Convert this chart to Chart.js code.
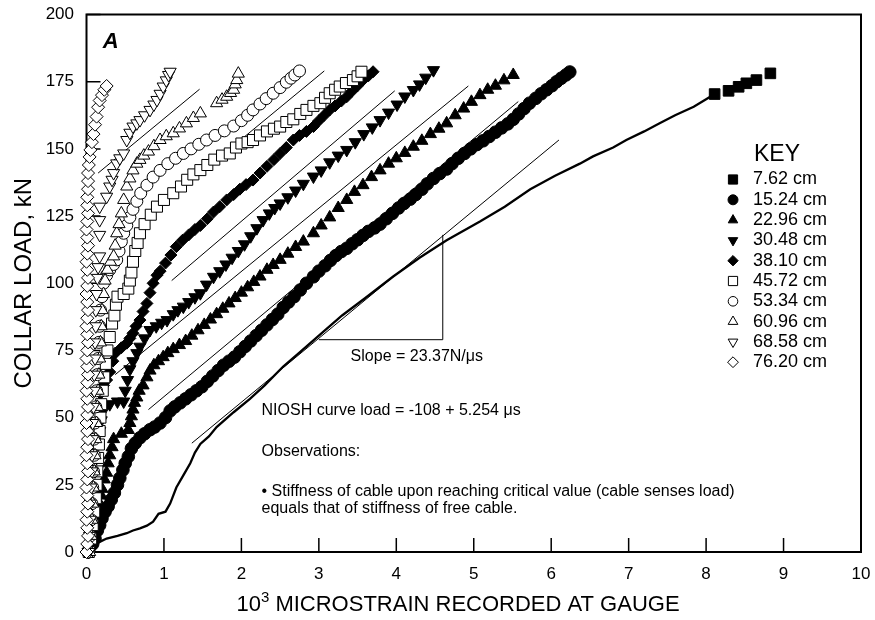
<!DOCTYPE html>
<html>
<head>
<meta charset="utf-8">
<script src="https://cdn.jsdelivr.net/npm/chart.js@4.4.0/dist/chart.umd.min.js"></script>
<style>
  html, body { margin: 0; padding: 0; background: #fff; }
</style>
</head>
<body>
<canvas id="myCanvas" width="875" height="620"></canvas>
<script>
// gauge positions (key)
const keyLabels = ['7.62 cm', '15.24 cm', '22.96 cm', '30.48 cm', '38.10 cm',
  '45.72 cm', '53.34 cm', '60.96 cm', '68.58 cm', '76.20 cm'];

const xTicks = [0, 1, 2, 3, 4, 5, 6, 7, 8, 9, 10];
const yTicks = [0, 25, 50, 75, 100, 125, 150, 175, 200];

// [10^3 microstrain, kN]
const pts762 = [[8.11,170.4],[8.29,171.6],[8.42,173.1],[8.52,174.4],[8.65,175.6],[8.83,178.1]];

const curve762 = [[0,0],[0.05,1.5],[0.15,3.5],[0.26,5],[0.4,6],[0.52,7],[0.6,8],[0.69,8.8],[0.78,9.8],
  [0.86,11.3],[0.93,14.2],[1.02,15],[1.08,18],[1.16,24],[1.25,28.5],[1.34,33],[1.4,37],[1.47,40.2],
  [1.58,43],[1.68,46.5],[1.9,52],[2.11,57],[2.3,62],[2.54,69],[2.76,74.5],[3.0,80.5],[3.3,88],
  [3.6,94.5],[3.96,102.5],[4.3,109.5],[4.65,116],[5.08,123],[5.4,128.5],[5.73,135],[6.05,140],
  [6.37,144.5],[6.54,147.2],[6.8,150.5],[6.97,153.3],[7.2,156.5],[7.4,159.5],[7.6,162.5],
  [7.84,165.7],[8.0,168.5],[8.11,170.4]];

const pts1524 = [[0.03,0.5],[0.08,3],[0.11,5],[0.14,8],[0.17,10],[0.2,12.5],[0.24,15],[0.28,17],
  [0.32,19.5],[0.36,22],[0.4,25],[0.43,27.5],[0.47,30.5],[0.5,33],[0.54,35.5],[0.58,38.5],[0.63,40.5],
  [0.69,42.5],[0.75,44],[0.82,45.5],[0.88,46.5],[0.95,48],[1.02,50],[1.08,52.5],[1.14,54],[1.21,55.5],
  [1.28,57],[1.35,58.5],[1.42,60],[1.49,61.5],[1.56,63.5],[1.63,65.5],[1.7,67.5],[1.77,69.5],[1.84,71],
  [1.91,72.5],[1.98,74.5],[2.05,76.5],[2.12,78.5],[2.19,80.5],[2.26,82.5],[2.33,84.5],[2.4,86.5],
  [2.47,88.5],[2.54,91],[2.61,93],[2.68,95],[2.76,97.5],[2.84,100],[2.93,102.4],[3.0,104.5],[3.08,106.5],
  [3.15,108.5],[3.22,110.3],[3.29,111.8],[3.36,113],[3.43,114.7],[3.5,116.2],[3.57,117.8],[3.64,119.3],
  [3.72,120.6],[3.79,122],[3.87,124],[3.95,126],[4.03,128],[4.1,129.7],[4.18,131.3],[4.25,133],
  [4.33,135],[4.4,137],[4.48,139],[4.56,140.8],[4.65,142.5],[4.72,144.5],[4.8,146.5],[4.88,148.3],
  [4.96,150],[5.04,151.6],[5.12,153],[5.2,154.6],[5.28,156.2],[5.36,157.8],[5.44,159.3],[5.51,161],
  [5.58,163],[5.65,165],[5.72,167],[5.8,168.8],[5.87,170.5],[5.94,172],[6.01,173.5],[6.07,175],
  [6.13,176.3],[6.19,177.5],[6.24,178.6]];

const pts2296 = [[0.03,0],[0.06,3],[0.08,6],[0.1,9],[0.12,12],[0.15,14.5],[0.17,18],[0.19,21],[0.2,23.5],
  [0.23,27],[0.26,29.5],[0.28,33],[0.3,36],[0.33,39],[0.35,42],[0.45,44],[0.54,45.4],[0.56,48],
  [0.58,50.5],[0.6,53],[0.62,55.5],[0.65,57.5],[0.68,60],[0.73,62],[0.78,65],[0.82,67.5],[0.87,69.5],
  [0.93,71],[0.99,72.5],[1.05,74],[1.12,75.5],[1.2,77],[1.28,78.5],[1.36,80.5],[1.44,82.5],[1.52,84.5],
  [1.6,86.5],[1.68,88.5],[1.76,90.5],[1.84,92.5],[1.92,94.5],[2.0,96.5],[2.08,98.5],[2.16,100.5],
  [2.24,102.5],[2.33,105],[2.41,106.8],[2.5,108.7],[2.6,111],[2.7,113.5],[2.8,115.5],[2.93,118.6],
  [3.03,121.5],[3.14,124.5],[3.25,128],[3.36,131],[3.46,134],[3.57,136.5],[3.68,139.5],[3.79,142],
  [3.9,144.5],[4.0,146.5],[4.11,148.5],[4.22,150.8],[4.33,153],[4.44,155.5],[4.55,157.5],[4.65,159.5],
  [4.76,162.5],[4.87,165],[4.97,167.5],[5.08,170],[5.18,172],[5.28,173.5],[5.39,175.5],[5.51,177.5]];

const pts3048 = [[0.02,0],[0.04,5],[0.06,10],[0.07,15],[0.08,20],[0.1,25],[0.11,30],[0.13,35],[0.15,40],
  [0.17,45],[0.19,49],[0.22,52.8],[0.3,55],[0.4,56],[0.48,56],[0.5,60],[0.53,64],[0.56,68],[0.6,71],
  [0.65,74],[0.69,76.4],[0.75,79.5],[0.82,82.6],[0.9,84],[0.97,85.3],[1.04,86.3],[1.12,88.5],[1.18,90],
  [1.25,91.3],[1.32,93],[1.4,94.8],[1.47,96.3],[1.55,99.5],[1.64,102.4],[1.72,104.5],[1.8,107],
  [1.88,109.5],[1.96,112],[2.04,114.5],[2.12,117.5],[2.2,120.5],[2.28,123.5],[2.36,126],[2.43,128],
  [2.5,129.7],[2.6,132],[2.7,134.5],[2.8,137],[2.93,139.7],[3.03,142],[3.14,145],[3.25,147.5],
  [3.36,149.6],[3.47,152.5],[3.58,155.5],[3.69,158],[3.79,160.7],[3.9,163.5],[4.01,166.5],[4.11,169.5],
  [4.22,171.9],[4.3,174],[4.38,176.5],[4.48,179.3]];

const pts3810 = [[0.02,0],[0.04,6],[0.05,12],[0.06,18],[0.07,24],[0.08,30],[0.1,36],[0.11,42],[0.13,48],
  [0.15,54],[0.18,59],[0.22,62],[0.26,64],[0.3,67],[0.34,71],[0.37,74],[0.45,76],[0.52,77.7],[0.56,79.5],
  [0.6,81.4],[0.64,84],[0.69,86.3],[0.73,89.5],[0.78,92.5],[0.82,96.5],[0.86,100],[0.91,103],[0.95,104.5],
  [1.02,107.5],[1.09,110.5],[1.16,113.6],[1.24,116],[1.32,118],[1.4,120],[1.47,121.5],[1.56,124],
  [1.64,126.5],[1.72,128.5],[1.81,131],[1.9,133],[1.98,135],[2.06,136.7],[2.15,138.4],[2.24,141],
  [2.33,143.5],[2.42,146],[2.5,148.3],[2.58,150.5],[2.67,153.3],[2.75,155],[2.84,156.5],[2.93,158.3],
  [3.0,160.5],[3.07,162.5],[3.14,164.5],[3.21,166],[3.29,167.8],[3.36,169.4],[3.43,171.5],[3.5,173.5],
  [3.57,175.6],[3.64,177.2],[3.7,178.7]];

const pts4572 = [[0.03,0],[0.06,5],[0.08,10],[0.1,15],[0.12,20],[0.13,25],[0.14,30],[0.15,35],[0.16,40],
  [0.17,45],[0.18,50],[0.19,55],[0.21,60],[0.23,65],[0.25,70],[0.27,75],[0.3,80],[0.33,85],[0.36,88],
  [0.38,92],[0.4,95],[0.48,96],[0.54,98],[0.56,101],[0.58,104],[0.6,108],[0.63,112],[0.66,115],
  [0.69,118.6],[0.75,122],[0.83,125.5],[0.91,128.5],[1.0,131],[1.12,133.5],[1.22,136],[1.3,138.5],
  [1.38,140.5],[1.47,142.1],[1.56,144],[1.65,146],[1.75,147.5],[1.85,148.3],[1.93,150.5],[2.0,152],
  [2.08,152.5],[2.15,153.3],[2.24,155],[2.33,156.5],[2.42,157.5],[2.5,158.3],[2.58,160],[2.67,161],
  [2.76,163],[2.84,164.5],[2.93,166],[3.02,167],[3.08,169],[3.14,170.7],[3.21,172],[3.27,173.2],
  [3.35,174.5],[3.44,175.6],[3.5,177],[3.55,178.7]];

const pts5334 = [[0.03,0],[0.05,6],[0.06,12],[0.07,18],[0.08,24],[0.09,30],[0.1,36],[0.1,42],[0.11,48],
  [0.12,54],[0.13,60],[0.14,66],[0.15,72],[0.16,78],[0.17,84],[0.18,90],[0.2,95],[0.22,100],[0.26,103],
  [0.3,105],[0.35,107],[0.39,108.7],[0.42,112],[0.45,115.5],[0.48,118.6],[0.52,121.5],[0.56,124.5],
  [0.6,127.5],[0.65,130.5],[0.7,133.5],[0.78,136.5],[0.86,139.5],[0.95,142],[1.05,144.5],[1.15,146.5],
  [1.25,148.3],[1.35,150],[1.45,151.7],[1.55,153.3],[1.66,155],[1.78,156.7],[1.9,158.5],[2.0,160.5],
  [2.08,162.5],[2.15,164.5],[2.24,166.7],[2.32,168.7],[2.41,170.7],[2.5,172.8],[2.58,174.8],
  [2.64,176.3],[2.69,177.5],[2.75,179]];

const pts6096 = [[0.04,0],[0.06,6],[0.07,12],[0.08,18],[0.09,24],[0.1,30],[0.11,36],[0.12,42],[0.13,48],
  [0.14,54],[0.15,60],[0.16,66],[0.17,72],[0.18,78],[0.19,84],[0.2,90],[0.22,96],[0.24,101],[0.27,105],
  [0.31,108],[0.35,110],[0.37,114],[0.39,118.6],[0.42,122],[0.45,126],[0.48,131],[0.52,136],[0.56,139],
  [0.6,142],[0.65,144.5],[0.69,145.9],[0.74,147.5],[0.8,149],[0.87,151],[0.95,153.3],[1.03,154.7],
  [1.12,155.8],[1.2,157.6],[1.29,159.5],[1.38,161.5],[1.47,163.2],[1.68,167],[1.75,168.3],[1.81,169.4],
  [1.86,170.8],[1.9,172],[1.92,174],[1.94,175.6],[1.96,178]];

const pts6858 = [[0.03,0],[0.04,6],[0.05,12],[0.05,18],[0.06,24],[0.07,30],[0.07,36],[0.08,42],[0.08,48],
  [0.09,54],[0.1,60],[0.1,66],[0.11,72],[0.11,78],[0.12,84],[0.12,90],[0.13,96],[0.14,102],[0.15,106],
  [0.17,110],[0.17,118],[0.17,123.5],[0.17,128.5],[0.26,132.2],[0.3,136],[0.33,138.5],[0.35,141],
  [0.39,144.6],[0.43,146.5],[0.48,148.3],[0.52,153.3],[0.56,156],[0.6,158.3],[0.65,159.5],[0.69,160.7],
  [0.75,162.5],[0.82,164.5],[0.87,166.5],[0.91,168.2],[0.95,170.5],[0.99,173.2],[1.03,175.5],
  [1.06,177.5],[1.08,178.7]];

const pts7620 = [[0,0],[0.01,3],[0.02,6],[0.01,9],[0,12],[0.01,15],[0.02,18],[0.01,21],[0,24],[0.01,27],
  [0.02,30],[0.01,33],[0,36],[0.01,39],[0.02,42],[0.01,45],[0,48],[0.01,51],[0.02,54],[0.01,57],[0,60],
  [0.01,63],[0.02,66],[0.01,69],[0,72],[0.01,75],[0.02,78],[0.01,81],[0,84],[0.01,87],[0.02,90],
  [0.01,93],[0,96],[0.01,99],[0.02,102],[0.01,105],[0,108],[0.01,111],[0.02,114],[0.01,117],[0,120],
  [0.01,123],[0.02,126],[0.01,129],[0.01,132],[0.02,135],[0.02,138],[0.02,141],[0.03,144],[0.04,147],
  [0.05,149.6],[0.07,152.5],[0.09,155.5],[0.11,159],[0.13,162],[0.15,165.5],[0.17,168],[0.2,170],
  [0.23,172],[0.26,173.4]];

// thin reference lines, stiffness of free cable
const refLine1 = [[0.15,141],[1.46,172.2]];
const refLine2 = [[0.71,122.9],[3.07,179]];
const refLine3 = [[1.10,101],[3.98,171.6]];
const refLine4 = [[0.37,66],[4.93,173.4]];
const refLine5 = [[0.80,53],[5.575,167.6]];
const refLine6 = [[1.36,40.5],[6.10,153.3]];
const slopeTriangle = [[3.0,79],[4.6,79],[4.6,118]];

const seriesPoints = [pts762, pts1524, pts2296, pts3048, pts3810, pts4572, pts5334, pts6096, pts6858, pts7620];
const refLines = [refLine1, refLine2, refLine3, refLine4, refLine5, refLine6, slopeTriangle];

// marker look for each gauge
const markerSpecs = [
  {style: 'rect', rot: 0, fill: true, r: 7.5, keyR: 6.5},
  {style: 'circle', rot: 0, fill: true, r: 6.3, keyR: 5},
  {style: 'triangle', rot: 0, fill: true, r: 7, keyR: 5.5},
  {style: 'triangle', rot: 180, fill: true, r: 7, keyR: 5.5},
  {style: 'rectRot', rot: 0, fill: true, r: 6, keyR: 5.2},
  {style: 'rect', rot: 0, fill: false, r: 7.8, keyR: 6.5},
  {style: 'circle', rot: 0, fill: false, r: 6, keyR: 4.8},
  {style: 'triangle', rot: 0, fill: false, r: 7, keyR: 5.6},
  {style: 'triangle', rot: 180, fill: false, r: 7, keyR: 5.6},
  {style: 'rectRot', rot: 0, fill: false, r: 6.5, keyR: 5.4}
];

Chart.defaults.font.family = '"Liberation Sans", Arial, Helvetica, sans-serif';
Chart.defaults.color = '#000';

function toXY(arr) {
  return arr.map(p => ({x: p[0], y: p[1]}));
}

const datasets = [];
seriesPoints.forEach((pts, i) => {
  const m = markerSpecs[i];
  datasets.push({
    label: keyLabels[i],
    data: toXY(pts),
    showLine: false,
    pointStyle: m.style,
    pointRotation: m.rot,
    pointRadius: m.r,
    pointHoverRadius: m.r,
    pointBorderWidth: 1,
    pointBackgroundColor: m.fill ? '#000' : '#fff',
    pointBorderColor: '#000',
    order: 100 - i,
    clip: false
  });
});
datasets.push({
  label: 'curve',
  data: toXY(curve762),
  showLine: true,
  borderColor: '#000',
  borderWidth: 2.3,
  pointRadius: 0,
  order: 150,
  clip: false
});
refLines.forEach(l => {
  datasets.push({
    label: 'ref',
    data: toXY(l),
    showLine: true,
    borderColor: '#000',
    borderWidth: 1,
    pointRadius: 0,
    order: 160,
    clip: false
  });
});

function drawMark(ctx, m, r, x, y) {
  ctx.beginPath();
  if (m.style === 'circle') {
    ctx.arc(x, y, r, 0, Math.PI * 2);
  } else if (m.style === 'rect') {
    const s = r * Math.SQRT1_2;
    ctx.rect(x - s, y - s, 2 * s, 2 * s);
  } else if (m.style === 'rectRot') {
    ctx.moveTo(x, y - r); ctx.lineTo(x + r, y); ctx.lineTo(x, y + r); ctx.lineTo(x - r, y);
    ctx.closePath();
  } else {
    let a = m.rot * Math.PI / 180;
    for (let k = 0; k < 3; k++) {
      const px = x + Math.sin(a) * r, py = y - Math.cos(a) * r;
      if (k === 0) ctx.moveTo(px, py); else ctx.lineTo(px, py);
      a += Math.PI * 2 / 3;
    }
    ctx.closePath();
  }
  ctx.fillStyle = m.fill ? '#000' : '#fff';
  ctx.fill();
  ctx.lineWidth = 1;
  ctx.strokeStyle = '#000';
  ctx.stroke();
}

// frame with inward ticks
const framePlugin = {
  id: 'frame',
  beforeDatasetsDraw(chart) {
    const {ctx, chartArea: a, scales: {x, y}} = chart;
    ctx.save();
    ctx.strokeStyle = '#000';
    ctx.lineWidth = 1.5;
    ctx.beginPath();
    xTicks.forEach(v => {
      const px = x.getPixelForValue(v);
      ctx.moveTo(px, a.bottom); ctx.lineTo(px, a.bottom - 14);
    });
    yTicks.forEach(v => {
      const py = y.getPixelForValue(v);
      ctx.moveTo(a.left, py); ctx.lineTo(a.left + 14, py);
    });
    ctx.stroke();
    ctx.lineWidth = 2;
    ctx.strokeRect(a.left, a.top, a.right - a.left, a.bottom - a.top);
    ctx.restore();
  }
};

// key, notes and x title
const notesPlugin = {
  id: 'notes',
  afterDraw(chart) {
    const {ctx, chartArea: a, scales: {x, y}} = chart;
    ctx.save();
    ctx.fillStyle = '#000';
    ctx.textBaseline = 'middle';

    ctx.font = 'bold italic 22px "Liberation Sans", Arial, sans-serif';
    ctx.textAlign = 'left';
    ctx.fillText('A', x.getPixelForValue(0.21), y.getPixelForValue(189.8));

    const noteX = x.getPixelForValue(2.26);
    ctx.font = '16px "Liberation Sans", Arial, sans-serif';
    ctx.fillText('Slope = 23.37N/\u03bcs', x.getPixelForValue(3.41), y.getPixelForValue(72.6));
    ctx.fillText('NIOSH curve load = -108 + 5.254 \u03bcs', noteX, y.getPixelForValue(52.8));
    ctx.fillText('Observations:', noteX, y.getPixelForValue(37.2));
    ctx.fillText('\u2022 Stiffness of cable upon reaching critical value (cable senses load)', noteX, y.getPixelForValue(22.3));
    ctx.fillText('equals that of stiffness of free cable.', noteX, y.getPixelForValue(16.2));

    // key
    const keyX = a.right - 84;
    ctx.textAlign = 'center';
    ctx.font = '23px "Liberation Sans", Arial, sans-serif';
    ctx.fillText('KEY', keyX, 155);
    ctx.font = '18px "Liberation Sans", Arial, sans-serif';
    ctx.textAlign = 'left';
    keyLabels.forEach((lab, i) => {
      const ry = 179.5 + i * 20.3;
      drawMark(ctx, markerSpecs[i], markerSpecs[i].keyR, keyX - 44, ry);
      ctx.fillStyle = '#000';
      ctx.fillText(lab, keyX - 24, ry);
    });

    // x axis title with superscript
    const big = '22px "Liberation Sans", Arial, sans-serif';
    const small = '15px "Liberation Sans", Arial, sans-serif';
    const rest = ' MICROSTRAIN RECORDED AT GAUGE';
    ctx.font = big;
    const w1 = ctx.measureText('10').width;
    const w3 = ctx.measureText(rest).width;
    ctx.font = small;
    const w2 = ctx.measureText('3').width;
    let tx = 458 - (w1 + w2 + w3) / 2;
    const ty = 605;
    ctx.font = big;
    ctx.fillText('10', tx, ty);
    tx += w1;
    ctx.font = small;
    ctx.fillText('3', tx, ty - 7);
    tx += w2;
    ctx.font = big;
    ctx.fillText(rest, tx, ty);
    ctx.restore();
  }
};

new Chart(document.getElementById('myCanvas'), {
  type: 'scatter',
  data: {datasets: datasets},
  options: {
    responsive: false,
    animation: false,
    devicePixelRatio: 1,
    layout: {padding: {left: 0, right: 14, top: 14.5, bottom: 0}},
    plugins: {legend: {display: false}, tooltip: {enabled: false}},
    scales: {
      x: {
        type: 'linear',
        min: 0, max: 10,
        afterBuildTicks: s => { s.ticks = xTicks.map(v => ({value: v})); },
        ticks: {font: {size: 17}, padding: 12, maxRotation: 0, autoSkip: false},
        grid: {display: false, drawTicks: false},
        border: {display: false},
        afterFit: s => { s.height = 68; s.paddingLeft = 0; s.paddingRight = 0; }
      },
      y: {
        type: 'linear',
        min: 0, max: 200,
        afterBuildTicks: s => { s.ticks = yTicks.map(v => ({value: v})); },
        ticks: {font: {size: 17}, padding: 12.5, autoSkip: false},
        grid: {display: false, drawTicks: false},
        border: {display: false},
        title: {display: true, text: 'COLLAR LOAD, kN', font: {size: 24}, padding: {top: 9.6, bottom: 0}},
        afterFit: s => { s.width = 86.5; s.paddingTop = 0; s.paddingBottom = 0; }
      }
    }
  },
  plugins: [framePlugin, notesPlugin]
});
</script>
</body>
</html>
